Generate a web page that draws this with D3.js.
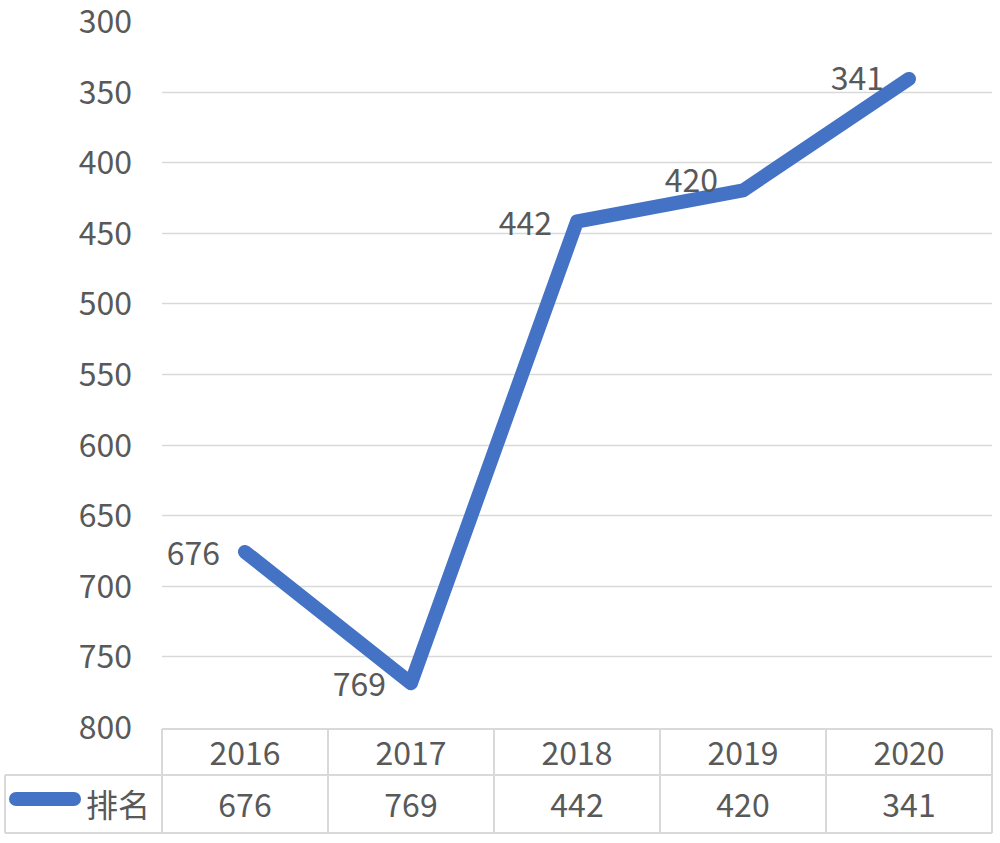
<!DOCTYPE html>
<html>
<head>
<meta charset="utf-8">
<script src="https://cdn.jsdelivr.net/npm/d3@7"></script>
<style>
  html, body { margin: 0; padding: 0; background: #ffffff; }
  svg { display: block; }
  text { font-family: "Noto Sans CJK SC", "Noto Sans", sans-serif; fill: #595959; }
</style>
</head>
<body>
<svg id="chart" width="1000" height="843"></svg>
<script>
const years = ["2016", "2017", "2018", "2019", "2020"];
const ranks = [676, 769, 442, 420, 341];
const seriesName = "排名";
const yTicks = [300, 350, 400, 450, 500, 550, 600, 650, 700, 750, 800];

const svg = d3.select("#chart");
const W = 1000, H = 843;
const plotLeft = 162, plotRight = 992, plotTop = 21, plotBottom = 727;
const tableTop = 729, tableMid = 775, tableBottom = 833, tableLeft = 5;
const color = "#4472C4";
const grid = "#d9d9d9";

const x = d3.scaleBand().domain(years).range([plotLeft, plotRight]).padding(0);
const y = d3.scaleLinear().domain([300, 800]).range([plotTop, plotBottom]);

// gridlines
svg.append("g").selectAll("line")
  .data(yTicks.filter(t => t !== 300 && t !== 800))
  .join("line")
  .attr("x1", plotLeft).attr("x2", plotRight)
  .attr("y1", d => Math.round(y(d)) + 0.5).attr("y2", d => Math.round(y(d)) + 0.5)
  .attr("stroke", grid).attr("stroke-width", 1.5);

// y axis labels
const yAxis = d3.axisLeft(y).tickValues(yTicks).tickSize(0).tickPadding(0);
const ya = svg.append("g").attr("transform", `translate(132,0)`).call(yAxis);
ya.select(".domain").remove();
ya.selectAll("text")
  .attr("font-size", 32)
  .attr("fill", "#595959")
  .attr("font-family", '"Noto Sans CJK SC", "Noto Sans", sans-serif')
  .attr("dy", "0.36em");

// line
const line = d3.line()
  .x((d, i) => x(years[i]) + x.bandwidth() / 2)
  .y(d => y(d));
svg.append("path")
  .datum(ranks)
  .attr("d", line)
  .attr("fill", "none")
  .attr("stroke", color)
  .attr("stroke-width", 14)
  .attr("stroke-linejoin", "round")
  .attr("stroke-linecap", "round");

// data labels (left of point)
const labelDy = [13, 13, 13, 2, 11];
svg.append("g").selectAll("text")
  .data(ranks)
  .join("text")
  .attr("x", (d, i) => x(years[i]) + x.bandwidth() / 2 - 25)
  .attr("y", (d, i) => y(d) + labelDy[i])
  .attr("text-anchor", "end")
  .attr("font-size", 32)
  .text(d => d);

// data table
const tg = svg.append("g").attr("stroke", grid).attr("stroke-width", 2).attr("fill", "none");
// horizontal lines
tg.append("line").attr("x1", plotLeft).attr("x2", plotRight).attr("y1", tableTop).attr("y2", tableTop);
tg.append("line").attr("x1", tableLeft).attr("x2", plotRight).attr("y1", tableMid).attr("y2", tableMid);
tg.append("line").attr("x1", tableLeft).attr("x2", plotRight).attr("y1", tableBottom).attr("y2", tableBottom);
// vertical lines
tg.append("line").attr("x1", tableLeft).attr("x2", tableLeft).attr("y1", tableMid).attr("y2", tableBottom);
const bounds = years.map(yr => x(yr)).concat([plotRight]);
tg.selectAll(".v").data(bounds).join("line")
  .attr("class", "v")
  .attr("x1", d => d).attr("x2", d => d)
  .attr("y1", tableTop).attr("y2", tableBottom);

// table header: years
svg.append("g").selectAll("text")
  .data(years)
  .join("text")
  .attr("x", d => x(d) + x.bandwidth() / 2)
  .attr("y", 765)
  .attr("text-anchor", "middle")
  .attr("font-size", 32)
  .text(d => d);

// table values
svg.append("g").selectAll("text")
  .data(ranks)
  .join("text")
  .attr("x", (d, i) => x(years[i]) + x.bandwidth() / 2)
  .attr("y", 817)
  .attr("text-anchor", "middle")
  .attr("font-size", 32)
  .text(d => d);

// legend key in table
svg.append("line")
  .attr("x1", 16).attr("x2", 74)
  .attr("y1", 799).attr("y2", 799)
  .attr("stroke", color).attr("stroke-width", 14).attr("stroke-linecap", "round");
svg.append("text")
  .attr("x", 150).attr("y", 817)
  .attr("text-anchor", "end")
  .attr("font-size", 32)
  .text(seriesName);
</script>
</body>
</html>
